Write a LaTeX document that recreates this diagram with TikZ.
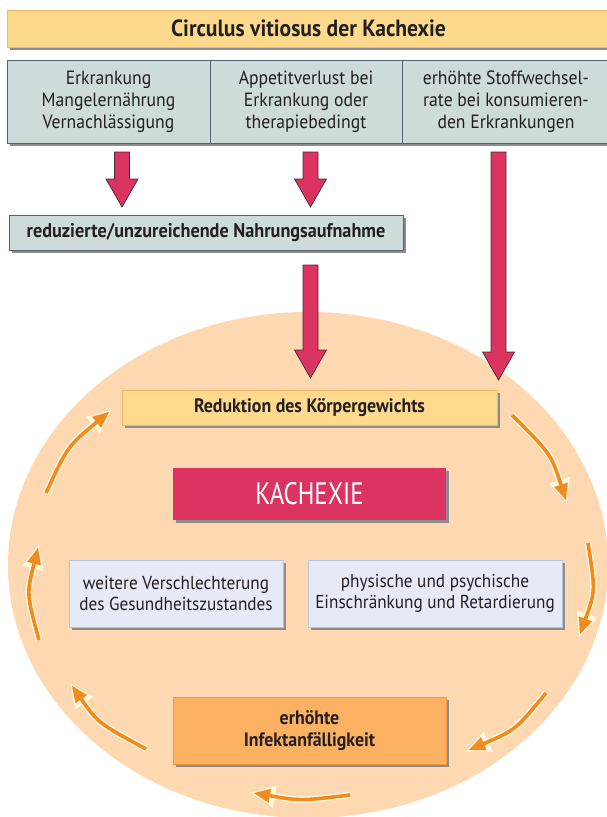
\documentclass[tikz,border=0pt]{standalone}
\usepackage{fontspec}
\setmainfont{PT Sans}[FakeStretch=0.92]
\newfontfamily\kachfont{PT Sans}[FakeStretch=0.8]
\usetikzlibrary{calc,arrows.meta,shadows}
\definecolor{titlefill}{HTML}{FDD98C}
\definecolor{titledraw}{HTML}{F6B46C}
\definecolor{grayblue}{HTML}{CDDCDA}
\definecolor{boxline}{HTML}{56636A}
\definecolor{crimson}{HTML}{DB3460}
\definecolor{crimsonline}{HTML}{4A2A35}
\definecolor{peach}{HTML}{FED8B0}
\definecolor{redfill}{HTML}{FED98E}
\definecolor{reddraw}{HTML}{F8B46A}
\definecolor{lavfill}{HTML}{E6EAF7}
\definecolor{lavdraw}{HTML}{B7C3DC}
\definecolor{infill}{HTML}{FBB062}
\definecolor{indraw}{HTML}{F39B3C}
\definecolor{arrowor}{HTML}{F28B1F}
\definecolor{halo}{HTML}{FFF8DC}
\definecolor{txt}{HTML}{231F20}
\newcommand\fatarrow[2]{%
  \draw[fatarr] let \p1=(#1), \p2=(#2) in
    (\x1-7.5pt,\y1) -- (\x1-7.5pt,\y2+28pt) -- (\x1-16pt,\y2+28pt) -- (\x2,\y2)
    -- (\x1+16pt,\y2+28pt) -- (\x1+7.5pt,\y2+28pt) -- (\x1+7.5pt,\y1) -- cycle;}
\begin{document}
\begin{tikzpicture}[x=1pt,y=-1pt,
  shad/.style={drop shadow={shadow xshift=3pt,shadow yshift=-3pt,fill=black!45,opacity=1}},
  box/.style={shape=rectangle,inner sep=0pt,align=center,text=txt},
  topbox/.style={box,shad,fill=grayblue,draw=boxline,line width=0.8pt,font=\fontsize{19.2}{22}\selectfont},
  titlebox/.style={box,shad,fill=titlefill,draw=titledraw,line width=0.6pt,font=\fontsize{23.5}{26}\selectfont\bfseries},
  redbox/.style={box,shad,fill=redfill,draw=reddraw,line width=1pt,font=\fontsize{19.4}{22}\selectfont\bfseries},
  kachbox/.style={box,shad,fill=crimson,text=white,font=\kachfont\fontsize{31}{34}\selectfont},
  lavbox/.style={box,shad,fill=lavfill,draw=lavdraw,line width=0.8pt,font=\fontsize{18.7}{21.5}\selectfont},
  infbox/.style={box,shad,fill=infill,draw=indraw,line width=1pt,font=\fontsize{19.4}{21.5}\selectfont\bfseries},
  fatarr/.style={fill=crimson,draw=crimsonline,line width=0.7pt,line join=miter},
  cychalo/.style={draw=halo,line width=6.5pt,shorten >=-3pt,
    -{Triangle[length=24pt,width=22pt,line width=0.1pt]}},
  cyc/.style={draw=arrowor,line width=3.6pt,
    -{Triangle[length=16pt,width=14pt,line width=0.1pt]}}
]
\useasboundingbox (0,0) rectangle (606,817);
\fill[white] (0,0) rectangle (606,817);

% title and top row
\node[titlebox,minimum width=603pt,minimum height=37pt] (title) at (308.5,28.5) {Circulus vitiosus der Kachexie};
\node[topbox,minimum width=203pt,minimum height=83pt] (c1) at (108.5,101.5) {Erkrankung\\Mangelernährung\\Vernachlässigung};
\node[topbox,minimum width=192pt,minimum height=83pt] (c2) at (306,101.5) {Appetitverlust bei\\Erkrankung oder\\therapiebedingt};
\node[topbox,minimum width=208pt,minimum height=83pt] (c3) at (506,101.5) {erhöhte Stoffwechsel-\\rate bei konsumieren-\\den Erkrankungen};

\node[topbox,font=\fontsize{19.8}{22}\selectfont\bfseries,minimum width=394pt,minimum height=35pt] (red) at (206,232.5) {reduzierte/unzureichende Nahrungsaufnahme};

% big ellipse
\fill[peach] (308,565) ellipse [x radius=300, y radius=253];

% fat arrows
\coordinate (f1s) at (122,152);   \coordinate (f1e) at (122,207);
\coordinate (f2s) at (310.5,152); \coordinate (f2e) at (310.5,207);
\coordinate (f3s) at (498.5,152); \coordinate (f3e) at (498.5,380);
\coordinate (f4s) at (310.5,265); \coordinate (f4e) at (310.5,378);
\fatarrow{f1s}{f1e}
\fatarrow{f2s}{f2e}
\fatarrow{f3s}{f3e}
\fatarrow{f4s}{f4e}

% inner boxes
\node[redbox,minimum width=375pt,minimum height=35pt] (gew) at (309.5,407.5) {Reduktion des Körpergewichts};
\node[kachbox,minimum width=273pt,minimum height=52pt] (kach) at (309.5,494) {KACHEXIE};
\node[lavbox,minimum width=214pt,minimum height=67pt] (ges) at (176,593.5) {weitere Verschlechterung\\des Gesundheitszustandes};
\node[lavbox,minimum width=254pt,minimum height=67pt] (phy) at (435,593.5) {physische und psychische\\Einschränkung und Retardierung};
\node[infbox,minimum width=273pt,minimum height=67pt] (inf) at (309.5,730.5) {erhöhte\\Infektanfälligkeit};

% cycle arrows
\coordinate (a1s) at (512,415); \coordinate (a1c) at (551,454); \coordinate (a1e) at (566,500);
\coordinate (a2s) at (588,543); \coordinate (a2c) at (595.5,591); \coordinate (a2e) at (580,634);
\coordinate (a3s) at (546,693); \coordinate (a3c) at (515.4,730); \coordinate (a3e) at (469,750);
\coordinate (a4s) at (350,795); \coordinate (a4c) at (300.5,801); \coordinate (a4e) at (254,793);
\coordinate (a5s) at (146,749); \coordinate (a5c) at (98.4,723.2); \coordinate (a5e) at (72,686);
\coordinate (a6s) at (39,640);  \coordinate (a6c) at (26.5,593.7); \coordinate (a6e) at (38,548);
\coordinate (a7s) at (46,493);  \coordinate (a7c) at (67.7,446.2); \coordinate (a7e) at (109,412);
\foreach \i in {1,...,7}{
  \draw[cychalo] (a\i s) .. controls (a\i c) .. (a\i e);
}
\foreach \i in {1,...,7}{
  \draw[cyc] (a\i s) .. controls (a\i c) .. (a\i e);
}
\end{tikzpicture}
\end{document}
